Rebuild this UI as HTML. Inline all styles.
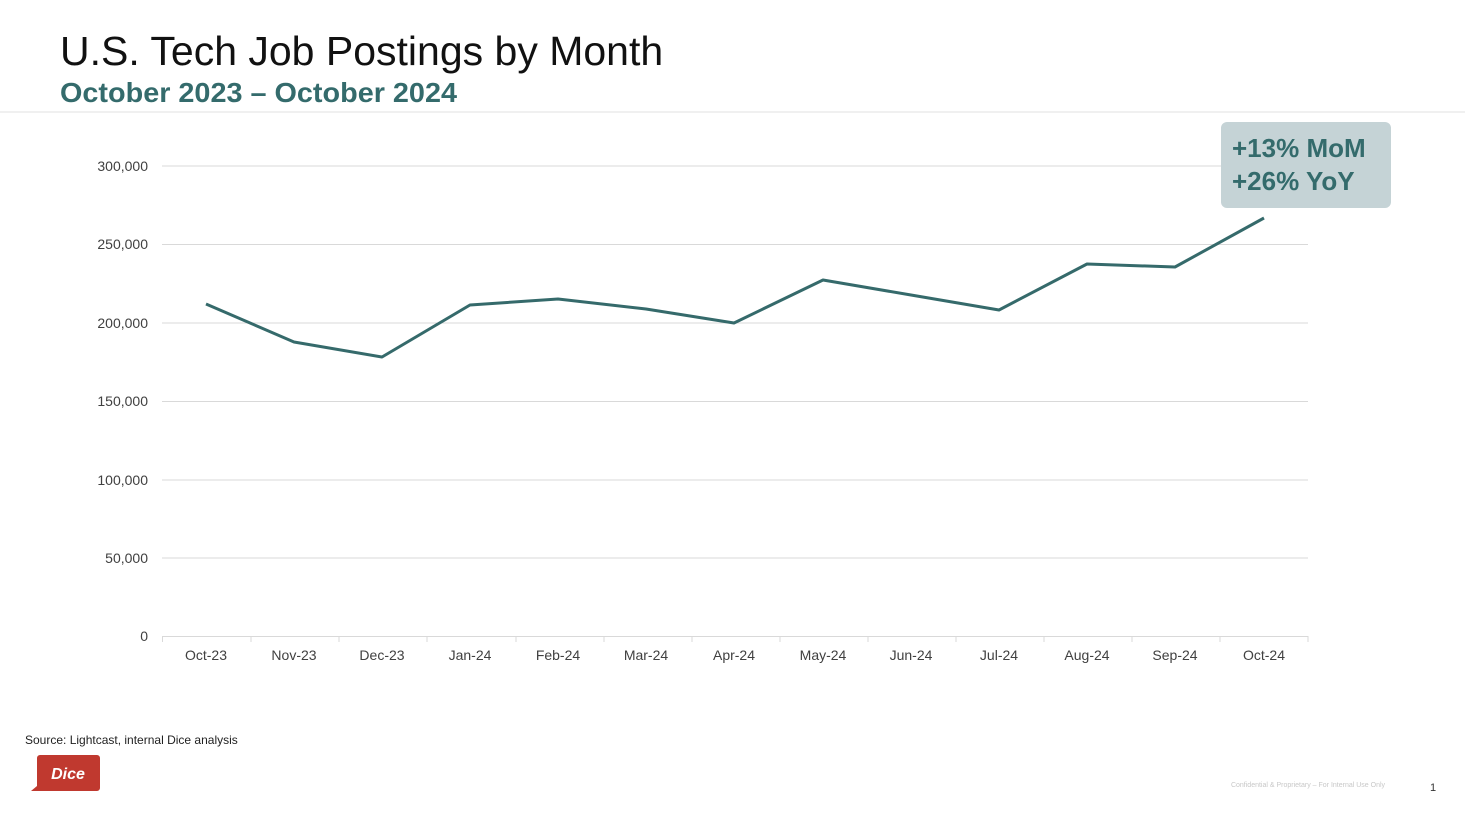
<!DOCTYPE html>
<html><head><meta charset="utf-8"><style>
body{margin:0;width:1465px;height:819px;background:#fff;overflow:hidden;font-family:"Liberation Sans",sans-serif;}
</style></head><body>
<svg width="1465" height="819" xmlns="http://www.w3.org/2000/svg" font-family="Liberation Sans, sans-serif">
<text x="60" y="65" font-size="41" fill="#111">U.S. Tech Job Postings by Month</text>
<text x="60" y="102" font-size="28" font-weight="bold" fill="#346b6c" textLength="397" lengthAdjust="spacingAndGlyphs">October 2023 – October 2024</text>
<line x1="0" y1="112" x2="1465" y2="112" stroke="#f0f0f0" stroke-width="2"/>
<g stroke="#d9d9d9" stroke-width="1">
<line x1="162" y1="166" x2="1308" y2="166"/><line x1="162" y1="244.5" x2="1308" y2="244.5"/>
<line x1="162" y1="323" x2="1308" y2="323"/><line x1="162" y1="401.5" x2="1308" y2="401.5"/>
<line x1="162" y1="480" x2="1308" y2="480"/><line x1="162" y1="558" x2="1308" y2="558"/>
<line x1="162" y1="636.5" x2="1308" y2="636.5"/>
<path d="M162.5 636v6M251 636v6M339 636v6M427 636v6M516 636v6M604 636v6M692 636v6M780 636v6M868 636v6M956 636v6M1044 636v6M1132 636v6M1220 636v6M1308 636v6"/>
</g>
<g font-size="14" fill="#404040" text-anchor="end">
<text x="148" y="171">300,000</text><text x="148" y="249">250,000</text><text x="148" y="328">200,000</text>
<text x="148" y="406">150,000</text><text x="148" y="485">100,000</text><text x="148" y="563">50,000</text><text x="148" y="641">0</text>
</g>
<g font-size="14" fill="#404040" text-anchor="middle">
<text x="206" y="660">Oct-23</text><text x="294" y="660">Nov-23</text><text x="382" y="660">Dec-23</text>
<text x="470" y="660">Jan-24</text><text x="558" y="660">Feb-24</text><text x="646" y="660">Mar-24</text>
<text x="734" y="660">Apr-24</text><text x="823" y="660">May-24</text><text x="911" y="660">Jun-24</text>
<text x="999" y="660">Jul-24</text><text x="1087" y="660">Aug-24</text><text x="1175" y="660">Sep-24</text><text x="1264" y="660">Oct-24</text>
</g>
<polyline fill="none" stroke="#356a6b" stroke-width="3" stroke-linejoin="round" points="206,304 294,342 382,357 470,305 558,299 646,309 734,323 823,280 911,295 999,310 1087,264 1175,267 1264,218"/>
<rect x="1221" y="122" width="170" height="86" rx="6" fill="#c5d3d6"/>
<text x="1232" y="157" font-size="26" font-weight="bold" fill="#346b6c">+13% MoM</text>
<text x="1232" y="190" font-size="26" font-weight="bold" fill="#346b6c">+26% YoY</text>
<text x="25" y="744" font-size="12" fill="#222">Source: Lightcast, internal Dice analysis</text>
<path d="M40 755h57a3 3 0 0 1 3 3v30a3 3 0 0 1-3 3H31l6-5v-28a3 3 0 0 1 3-3z" fill="#c0392f"/>
<text x="68" y="779" font-size="16" font-weight="bold" font-style="italic" fill="#fff" text-anchor="middle">Dice</text>
<text x="1308" y="787" font-size="7" fill="#c8c8c8" text-anchor="middle">Confidential &amp; Proprietary – For Internal Use Only</text>
<text x="1433" y="791" font-size="11" fill="#333" text-anchor="middle">1</text>
</svg>
</body></html>
